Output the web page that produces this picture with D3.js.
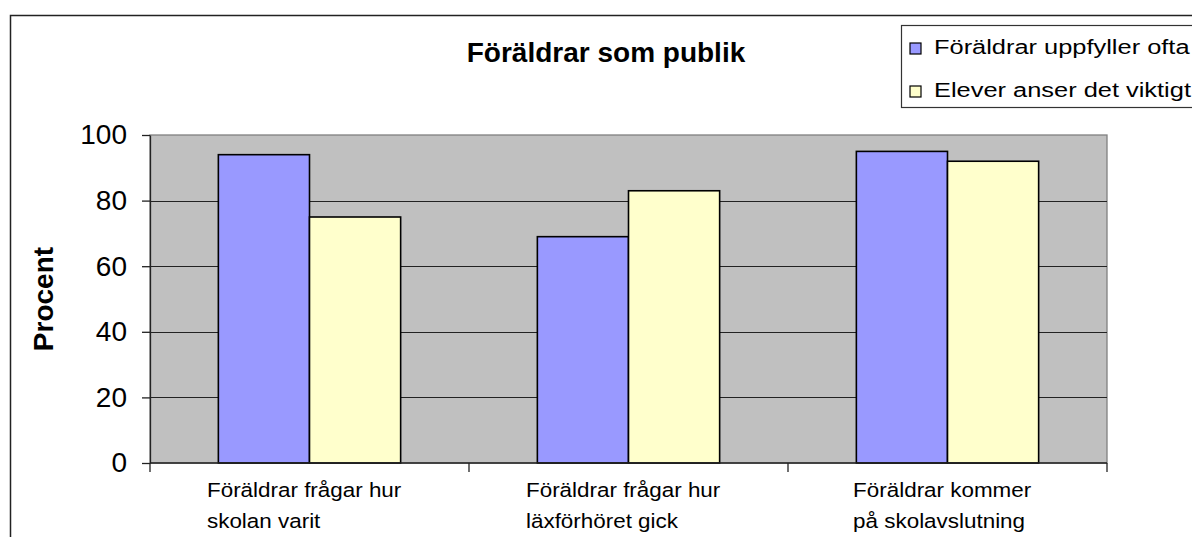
<html>
<head>
  <style>
    body { margin: 0; background: #fff; }
    svg text { font-family: "Liberation Sans", Arial, sans-serif; fill: #000; }
    svg .grid { stroke: #222; stroke-width: 1.2px; }
    svg .axis path, svg .axis line { stroke: #222; stroke-width: 1.3px; }
    svg .axis .tick text { font-size: 28px; }
    svg .bar { stroke: #000; stroke-width: 1.6px; }
    svg .cat text { font-size: 19.5px; }
    svg .legend text { font-size: 20px; }
  </style>
</head>
<body>
  <div id="chart"></div>
  <script src="https://d3js.org/d3.v7.min.js"></script>
  <script>
    var title = "Föräldrar som publik";
    var yLabel = "Procent";
    var categories = [
      ["Föräldrar frågar hur", "skolan varit"],
      ["Föräldrar frågar hur", "läxförhöret gick"],
      ["Föräldrar kommer", "på skolavslutning"]
    ];
    var seriesNames = ["Föräldrar uppfyller ofta", "Elever anser det viktigt"];
    var parentsOften = [94, 69, 95];
    var pupilsImportant = [75, 83, 92];
    var yTicks = [0, 20, 40, 60, 80, 100];
    var colors = ["#9999FF", "#FFFFCC"];

    var series = [parentsOften, pupilsImportant];

    var W = 1192, H = 537;
    var plot = { left: 150, right: 1107, top: 135, bottom: 463 };
    var wide = 1.15;      // the small texts in the original are drawn wider than Arial
    var legendWide = 1.27;

    var svg = d3.select("#chart")
      .append("svg")
        .attr("width", W)
        .attr("height", H);

    // outer chart border (runs off the right and bottom of the picture)
    svg.append("rect")
      .attr("x", 10.5).attr("y", 15.5)
      .attr("width", W + 20).attr("height", H + 20)
      .attr("fill", "#fff")
      .attr("stroke", "#222")
      .attr("stroke-width", 1.5);

    // scales
    var x0 = d3.scaleBand()
      .domain(d3.range(categories.length))
      .range([plot.left, plot.right])
      .padding(0);

    var x1 = d3.scaleBand()
      .domain(d3.range(series.length))
      .range([0, x0.bandwidth()])
      .paddingInner(0)
      .paddingOuter(0.75);

    var y = d3.scaleLinear().domain([0, 100]).range([plot.bottom, plot.top]);

    // plot area
    svg.append("rect")
      .attr("x", plot.left).attr("y", plot.top)
      .attr("width", plot.right - plot.left)
      .attr("height", plot.bottom - plot.top)
      .attr("fill", "#C0C0C0")
      .attr("stroke", "#808080")
      .attr("stroke-width", 1.3);

    // horizontal grid lines
    svg.selectAll("line.grid")
      .data(yTicks.filter(function (d) { return d > 0 && d < 100; }))
      .enter().append("line")
        .classed("grid", true)
        .attr("x1", plot.left).attr("x2", plot.right)
        .attr("y1", function (d) { return Math.round(y(d)) + 0.5; })
        .attr("y2", function (d) { return Math.round(y(d)) + 0.5; });

    // bars
    series.forEach(function (vals, s) {
      svg.selectAll("rect.s" + s)
        .data(vals)
        .enter().append("rect")
          .attr("class", "bar s" + s)
          .attr("x", function (d, i) { return x0(i) + x1(s); })
          .attr("y", function (d) { return y(d); })
          .attr("width", x1.bandwidth())
          .attr("height", function (d) { return y(0) - y(d); })
          .attr("fill", colors[s]);
    });

    // y axis
    var yAxis = d3.axisLeft(y)
      .tickValues(yTicks)
      .tickSize(8)
      .tickPadding(15)
      .tickSizeOuter(0);

    svg.append("g")
        .attr("class", "axis")
        .attr("transform", "translate(" + plot.left + ",0)")
        .call(yAxis);

    // x axis: ticks sit on the category boundaries
    svg.append("line")
      .attr("x1", plot.left).attr("x2", plot.right)
      .attr("y1", plot.bottom).attr("y2", plot.bottom)
      .attr("stroke", "#222").attr("stroke-width", 1.3);

    var bounds = d3.range(categories.length + 1).map(function (i) {
      return i < categories.length ? x0(i) : x0(i - 1) + x0.bandwidth();
    });
    svg.selectAll("line.xtick")
      .data(bounds)
      .enter().append("line")
        .attr("x1", function (d) { return d; })
        .attr("x2", function (d) { return d; })
        .attr("y1", plot.bottom).attr("y2", plot.bottom + 9)
        .attr("stroke", "#222").attr("stroke-width", 1.3);

    // category labels, two lines, left-aligned block centred on the band
    var cat = svg.selectAll("g.cat")
      .data(categories)
      .enter().append("g")
        .attr("class", "cat")
        .attr("transform", function (d, i) {
          return "translate(" + (x0(i) + x0.bandwidth() / 2 - 5) + ",0)";
        });

    cat.each(function (d) {
      var t = d3.select(this).append("text")
        .style("text-anchor", "start");
      d.forEach(function (line, k) {
        t.append("tspan")
          .attr("x", 0)
          .attr("y", 497 + k * 31)
          .text(line);
      });
      var w = t.node().getBBox().width * wide;
      t.attr("transform", "translate(" + (-w / 2) + ",0) scale(" + wide + ",1)");
    });

    // title
    svg.append("text")
      .attr("x", 606).attr("y", 62)
      .style("text-anchor", "middle")
      .style("font-size", "28px")
      .style("font-weight", "bold")
      .text(title);

    // y label
    svg.append("text")
      .attr("transform", "translate(53," + ((plot.top + plot.bottom) / 2) + ") rotate(-90)")
      .style("text-anchor", "middle")
      .style("font-size", "28px")
      .style("font-weight", "bold")
      .text(yLabel);

    // legend
    var legend = svg.append("g").attr("class", "legend");
    legend.append("rect")
      .attr("x", 901.5).attr("y", 25.5)
      .attr("width", 400).attr("height", 82)
      .attr("fill", "#fff")
      .attr("stroke", "#333")
      .attr("stroke-width", 1.2);

    var item = legend.selectAll("g.item")
      .data(seriesNames)
      .enter().append("g")
        .attr("class", "item")
        .attr("transform", function (d, i) { return "translate(910," + (43 + i * 43) + ")"; });

    item.append("rect")
      .attr("width", 11).attr("height", 11)
      .attr("fill", function (d, i) { return colors[i]; })
      .attr("stroke", "#000")
      .attr("stroke-width", 1.2);

    item.append("text")
      .attr("transform", "translate(24,11) scale(" + legendWide + ",1)")
      .text(function (d) { return d; });
  </script>
</body>
</html>
